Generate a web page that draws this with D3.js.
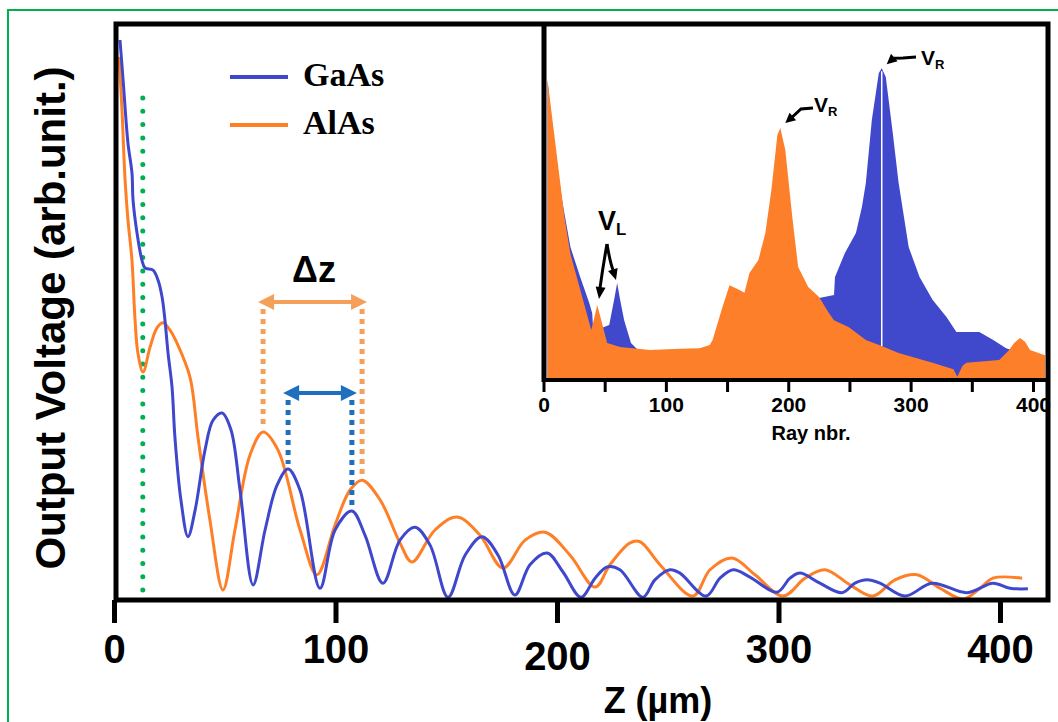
<!DOCTYPE html>
<html>
<head>
<meta charset="utf-8">
<script src="https://cdn.jsdelivr.net/npm/d3@7"></script>
<style>
  body { margin: 0; background: #fff; }
  svg { display: block; }
</style>
</head>
<body>
<div class="chart"></div>
<script>
// ---- main plot: output voltage vs z ----
const zTicks = [0, 100, 200, 300, 400];

const gaasZ = [2.7, 4.1, 6.3, 8.1, 8.6, 10.4, 12.6, 14.0, 17.6, 19.9, 21.7, 23.0, 24.4, 26.2, 27.5, 30.2, 33.4, 36.6, 41.1, 44.7,
  48.8, 52.8, 56.9, 62.8, 68.2, 73.6, 78.6, 84, 93, 99.8, 107.4, 113.3, 121.4, 129.1, 135.9, 142.7, 150.8, 158.5, 166.1, 173.4,
  181, 187.8, 195.5, 202.7, 210.8, 217.2, 222.6, 228.4, 238.8, 244.2, 251, 255.5, 267.3, 273.6, 279.5, 287.1, 299.3, 305.2, 309.7, 318.7,
  328.7, 334.5, 340, 345.8, 357.1, 369.3, 385.1, 396.8, 404.5, 412.6];
const gaasV = [100, 92.9, 81.6, 76.3, 71.4, 65.5, 60.7, 59.3, 58.9, 57.1, 54.1, 50, 44.1, 38, 29.1, 17.9, 11.3, 16, 26.8, 32.1,
  33.4, 30.4, 19.6, 2.7, 12.5, 20.5, 23.4, 19.6, 2.1, 12.5, 15.9, 11.6, 3, 10.7, 13, 9.8, 0.5, 8, 11.3, 8,
  0.9, 6.3, 8.4, 5, 0.5, 3.9, 5.9, 5.4, 0.5, 3.6, 5.4, 4.8, 0.7, 3.9, 5.4, 4.1, 1.4, 3.9, 4.8, 3,
  1.3, 3, 3.6, 3, 0.7, 3, 1.3, 3, 2.1, 2];

const alasZ = [2.3, 3.6, 5, 6.3, 8.1, 9.5, 10.8, 13.1, 16.3, 19.4, 22.1, 25.3, 28.4, 34.3, 37.9, 43.3, 49.2, 54.6, 61.4, 67.3,
  74, 84, 91.6, 99.8, 106.5, 112, 120.1, 129.1, 134.5, 144.9, 154.9, 165.2, 175.6, 185.6, 194.6, 205.9, 217.2, 223.9, 233, 237.5,
  246.5, 261.4, 269.1, 279, 289.4, 302, 312, 321, 332.3, 342.7, 352.6, 362.5, 372.9, 383.3, 391, 396.8, 410];
const alasV = [97, 87.5, 75, 67.9, 60.7, 50, 44.1, 40.7, 45.2, 48.6, 49.5, 48.2, 45.9, 39.8, 29.1, 14.3, 1.8, 12.5, 25.9, 30,
  26.8, 12.5, 4.5, 13.4, 19.6, 21.4, 17.9, 10.2, 6.8, 12.5, 14.8, 11.6, 5.7, 10.7, 12.1, 8, 2.3, 6.3, 10.2, 10.4,
  6.3, 0.7, 5.4, 7.5, 4.5, 0.7, 3.9, 5.4, 2.7, 0.7, 3.6, 4.5, 2.1, 0.2, 2.1, 3.9, 3.9];

// peaks used for the delta-z markers and the green reference line
const alasPeaks = [67.3, 112];
const gaasPeaks = [78.6, 107.4];
const refZ = 13;

// ---- inset: ray histogram ----
const insetTicks = [0, 50, 100, 150, 200, 250, 300, 350, 400];

const insetGaasRay = [3.3, 8, 15.4, 22, 30, 37.4, 39.8, 40.7, 43, 48, 53.7, 57.7, 60.2, 62.6, 65.9, 71.5, 77.2, 95, 127.6, 160,
  200.8, 225.2, 237.4, 238.2, 246.3, 255.3, 260.2, 263.4, 268.3, 274, 276.4, 279.7, 285.4, 290.2, 298.4, 307.3, 317.9, 329.3, 337.4, 356.1,
  367.5, 378, 387.8, 409.8];
const insetGaasV = [85.7, 68.6, 50.9, 38, 29.4, 22, 19.1, 13.7, 14.9, 14.9, 15.7, 22.9, 27.7, 22.9, 17.1, 10.6, 8.6, 8.3, 8.6, 10,
  14.3, 23.4, 24.3, 29.4, 36.3, 42, 49.4, 56.3, 74.3, 87.7, 89.1, 86.6, 70.6, 56.3, 38, 29.4, 22.9, 18, 13.7, 13.7,
  11.4, 9.1, 8, 6.9];

const insetAlasRay = [3.3, 17.1, 22, 30.1, 39, 41.5, 43.9, 47.2, 52, 62.6, 87, 111.4, 127.6, 135.8, 138.2, 145.5, 152, 160.2, 164.2, 168.3,
  175.6, 181.3, 186.2, 191.1, 193.5, 197.6, 203.3, 208.1, 216.3, 225.2, 233.3, 237.4, 249.6, 263.4, 276.4, 290.2, 317.9, 335, 338.2, 342.3,
  345.5, 372.4, 380.5, 384.6, 389.4, 393.5, 397.6, 409.8];
const insetAlasV = [85.7, 46.6, 36, 25.7, 14.3, 17.7, 21.4, 17.1, 10.6, 9.4, 8.6, 8.9, 9.1, 10, 11.4, 20, 27.1, 25.7, 24.9, 30.6,
  34.3, 42, 54.3, 70, 72, 65.7, 46.6, 32.3, 26.6, 23.7, 19.1, 17.1, 15.1, 11.4, 9.7, 7.7, 4.9, 3.1, 0.9, 4,
  4.9, 5.7, 8.6, 10.6, 12, 10.9, 8.6, 7.1];

const BLUE = "#3f48cc";
const ORANGE = "#ff7f27";
const LIGHT_ORANGE = "#f5a05a";
const DARK_BLUE = "#1f6fbf";
const GREEN = "#00b050";
const SANS = "'Liberation Sans', Arial, sans-serif";

const svg = d3.select(".chart").append("svg")
    .attr("width", 1058)
    .attr("height", 722);

// green outer border
svg.append("rect")
    .attr("x", 8).attr("y", 10)
    .attr("width", 1070).attr("height", 730)
    .attr("fill", "none")
    .attr("stroke", GREEN)
    .attr("stroke-width", 2);

const x = d3.scaleLinear().domain([0, 400]).range([114, 1000]);
const y = d3.scaleLinear().domain([0, 100]).range([600, 40]);

// arrow head helper (tip at x,y pointing along angle)
function arrowHead(g, tx, ty, angle, len, halfW, color) {
    const bx = tx - len * Math.cos(angle), by = ty - len * Math.sin(angle);
    const px = -Math.sin(angle) * halfW, py = Math.cos(angle) * halfW;
    g.append("path")
        .attr("d", `M${tx},${ty}L${bx + px},${by + py}L${bx - px},${by - py}Z`)
        .attr("fill", color);
}

// green dotted reference line
svg.append("line")
    .attr("x1", x(refZ)).attr("x2", x(refZ))
    .attr("y1", 98).attr("y2", 596)
    .attr("stroke", GREEN)
    .attr("stroke-width", 5)
    .attr("stroke-linecap", "round")
    .attr("stroke-dasharray", "0,13.3");

// curves
const line = d3.line()
    .x(d => x(d[0]))
    .y(d => y(d[1]))
    .curve(d3.curveCatmullRom.alpha(0.5));

svg.append("path")
    .datum(d3.zip(alasZ, alasV))
    .attr("d", line)
    .attr("fill", "none")
    .attr("stroke", ORANGE)
    .attr("stroke-width", 3);

svg.append("path")
    .datum(d3.zip(gaasZ, gaasV))
    .attr("d", line)
    .attr("fill", "none")
    .attr("stroke", BLUE)
    .attr("stroke-width", 3);

// delta z markers
function peakValue(zs, vs, z) {
    return vs[zs.indexOf(z)];
}
function deltaMarker(peaks, zs, vs, arrowY, color) {
    const g = svg.append("g");
    peaks.forEach(p => {
        g.append("line")
            .attr("x1", x(p)).attr("x2", x(p))
            .attr("y1", arrowY + 7)
            .attr("y2", y(peakValue(zs, vs, p)) - 5)
            .attr("stroke", color)
            .attr("stroke-width", 5)
            .attr("stroke-dasharray", "5,5");
    });
    const x1 = x(peaks[0]) - 5, x2 = x(peaks[1]) + 5;
    g.append("line")
        .attr("x1", x1 + 10).attr("x2", x2 - 10)
        .attr("y1", arrowY).attr("y2", arrowY)
        .attr("stroke", color)
        .attr("stroke-width", 4);
    arrowHead(g, x1, arrowY, Math.PI, 16, 8, color);
    arrowHead(g, x2, arrowY, 0, 16, 8, color);
}
deltaMarker(alasPeaks, alasZ, alasV, 302, LIGHT_ORANGE);
deltaMarker(gaasPeaks, gaasZ, gaasV, 393, DARK_BLUE);

svg.append("text")
    .attr("x", 314).attr("y", 282)
    .attr("text-anchor", "middle")
    .attr("font-family", SANS)
    .attr("font-weight", "bold")
    .attr("font-size", 36)
    .text("Δz");

// legend
const legend = [["GaAs", BLUE, 77, 86], ["AlAs", ORANGE, 125, 134]];
legend.forEach(([name, color, ly, ty]) => {
    svg.append("line")
        .attr("x1", 230).attr("x2", 288)
        .attr("y1", ly).attr("y2", ly)
        .attr("stroke", color)
        .attr("stroke-width", 4);
    svg.append("text")
        .attr("x", 303).attr("y", ty)
        .attr("font-family", "'Liberation Serif', 'Times New Roman', serif")
        .attr("font-weight", "bold")
        .attr("font-size", 34)
        .text(name);
});

// ---- inset ----
const xi = d3.scaleLinear().domain([0, 400]).range([543.5, 1033]);
const yi = d3.scaleLinear().domain([0, 100]).range([380, 30]);

const inset = svg.append("g");
inset.append("rect")
    .attr("x", 544).attr("y", 24)
    .attr("width", 504).attr("height", 356)
    .attr("fill", "#fff");

svg.append("clipPath").attr("id", "inset-clip")
    .append("rect")
    .attr("x", 544).attr("y", 24)
    .attr("width", 503).attr("height", 356);

const area = d3.area()
    .x(d => xi(d[0]))
    .y0(yi(0))
    .y1(d => yi(d[1]));

const areas = inset.append("g").attr("clip-path", "url(#inset-clip)");
areas.append("path")
    .datum(d3.zip(insetGaasRay, insetGaasV))
    .attr("d", area)
    .attr("fill", "#4048cc");
areas.append("path")
    .datum(d3.zip(insetAlasRay, insetAlasV))
    .attr("d", area)
    .attr("fill", "#fd7f29");

// thin white line through the GaAs peak
const peakIdx = d3.maxIndex(insetGaasV);
const peakRay = insetGaasRay[peakIdx];
areas.append("line")
    .attr("x1", xi(peakRay)).attr("x2", xi(peakRay))
    .attr("y1", yi(insetGaasV[peakIdx]) + 3)
    .attr("y2", yi(insetAlasV[insetAlasRay.indexOf(peakRay)]))
    .attr("stroke", "#fff")
    .attr("stroke-width", 1.5);

// inset axis
const insetAxis = inset.append("g")
    .attr("transform", "translate(0,380)")
    .call(d3.axisBottom(xi)
        .tickValues(insetTicks)
        .tickSize(12)
        .tickPadding(5)
        .tickFormat(d => d % 100 === 0 ? d : ""));
insetAxis.select(".domain").remove();
insetAxis.selectAll("line").attr("stroke", "#000").attr("stroke-width", 3);
insetAxis.selectAll("text")
    .attr("font-family", SANS)
    .attr("font-weight", "bold")
    .attr("font-size", 21)
    .attr("fill", "#000");

inset.append("text")
    .attr("x", 811).attr("y", 440)
    .attr("text-anchor", "middle")
    .attr("font-family", SANS)
    .attr("font-weight", "bold")
    .attr("font-size", 20)
    .text("Ray nbr.");

inset.append("line")
    .attr("x1", 544).attr("x2", 544)
    .attr("y1", 22).attr("y2", 382)
    .attr("stroke", "#000").attr("stroke-width", 5);
inset.append("line")
    .attr("x1", 542).attr("x2", 1048)
    .attr("y1", 380).attr("y2", 380)
    .attr("stroke", "#000").attr("stroke-width", 4);

// inset labels with arrows
function vLabel(tx, ty, main, sub, size) {
    const t = inset.append("text")
        .attr("x", tx).attr("y", ty)
        .attr("font-family", SANS)
        .attr("font-weight", "bold")
        .attr("font-size", size);
    t.append("tspan").text(main);
    t.append("tspan")
        .attr("font-size", size * 0.62)
        .attr("dy", size * 0.2)
        .text(sub);
}
vLabel(598, 230, "V", "L", 27);
vLabel(814, 112, "V", "R", 21);
vLabel(921, 65, "V", "R", 21);

const ann = inset.append("g");
ann.append("path")
    .attr("d", "M607,244 Q603,266 600,288")
    .attr("fill", "none").attr("stroke", "#000").attr("stroke-width", 3);
arrowHead(ann, 599, 299, Math.atan2(11, -1.5), 12, 5, "#000");
ann.append("path")
    .attr("d", "M607,244 Q610,262 613,270")
    .attr("fill", "none").attr("stroke", "#000").attr("stroke-width", 3);
arrowHead(ann, 616, 280, Math.atan2(10, 3), 11, 5, "#000");

ann.append("path")
    .attr("d", `M813,108 L801,109 L${xi(193.5) + 12},${yi(72) - 11}`)
    .attr("fill", "none").attr("stroke", "#000").attr("stroke-width", 3);
arrowHead(ann, xi(193.5) + 5, yi(72) - 5, Math.atan2(7, -8), 10, 5, "#000");

ann.append("path")
    .attr("d", `M916,57 L903,58 L${xi(peakRay) + 12},${yi(insetGaasV[peakIdx]) - 10}`)
    .attr("fill", "none").attr("stroke", "#000").attr("stroke-width", 3);
arrowHead(ann, xi(peakRay) + 5, yi(insetGaasV[peakIdx]) - 4, Math.atan2(7, -8), 10, 5, "#000");

// ---- main frame and axes ----
svg.append("rect")
    .attr("x", 116).attr("y", 24)
    .attr("width", 932).attr("height", 576)
    .attr("fill", "none")
    .attr("stroke", "#000")
    .attr("stroke-width", 5);

const xAxis = svg.append("g")
    .attr("transform", "translate(0,600)")
    .call(d3.axisBottom(x)
        .tickValues(zTicks)
        .tickSize(23)
        .tickPadding(12));
xAxis.select(".domain").remove();
xAxis.selectAll("line").attr("stroke", "#000").attr("stroke-width", 5);
xAxis.selectAll("text")
    .attr("font-family", SANS)
    .attr("font-weight", "bold")
    .attr("font-size", 40)
    .attr("fill", "#000");
// the 200 label sits a little lower in the original
xAxis.selectAll(".tick").filter(d => d === 200).select("text")
    .attr("y", 42);

svg.append("text")
    .attr("x", 658).attr("y", 713)
    .attr("text-anchor", "middle")
    .attr("font-family", SANS)
    .attr("font-weight", "bold")
    .attr("font-size", 36)
    .text("Z (µm)");

svg.append("text")
    .attr("transform", "translate(65,318) rotate(-90)")
    .attr("text-anchor", "middle")
    .attr("font-family", SANS)
    .attr("font-weight", "bold")
    .attr("font-size", 42)
    .text("Output Voltage (arb.unit.)");
</script>
</body>
</html>
